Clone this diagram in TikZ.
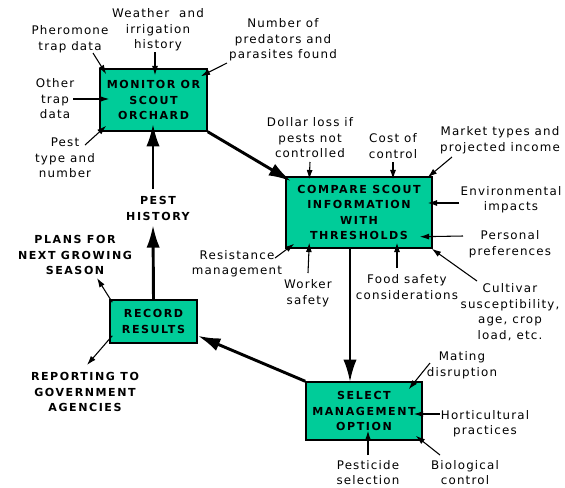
\documentclass[tikz,border=0pt]{standalone}
\usepackage{fontspec}
\setmainfont{DejaVu Sans}
\newfontfamily\lblfont[LetterSpace=10]{DejaVu Sans}
\newfontfamily\capfont[LetterSpace=14]{DejaVu Sans Bold}
\usetikzlibrary{arrows.meta}
\definecolor{scout}{RGB}{0,204,153}
\tikzset{
  box/.style={draw,line width=1.1pt,fill=scout,align=center,inner sep=0pt,
    font=\capfont\fontsize{8.3}{11.6}\selectfont},
  lbl/.style={align=center,inner sep=0pt,font=\lblfont\fontsize{8.9}{11.6}\selectfont},
  caps/.style={align=center,inner sep=0pt,font=\capfont\fontsize{8.3}{11.8}\selectfont},
  feed/.style={line width=0.8pt,-{Latex[length=7pt,width=4.5pt]}},
  flow/.style={line width=2.2pt,-{Latex[length=17pt,width=10pt]}}
}
\begin{document}
\begin{tikzpicture}[x=0.75pt,y=-0.75pt]
\useasboundingbox (0,0) rectangle (565,487);

\node[box,minimum width=80.25pt,minimum height=46.5pt] (mon) at (153.5,100) {MONITOR OR\\SCOUT\\ORCHARD};
\node[box,minimum width=109.5pt,minimum height=53.25pt] (cmp) at (359,212.5) {COMPARE SCOUT\\INFORMATION\\WITH\\THRESHOLDS};
\node[box,minimum width=65.25pt,minimum height=32.25pt] (rec) at (153.5,321.5) {RECORD\\RESULTS};
\node[box,minimum width=87pt,minimum height=43.5pt] (sel) at (364,411) {SELECT\\MANAGEMENT\\OPTION};

\node[lbl] (pher) at (70,39) {Pheromone\\trap data};
\node[lbl] (weather) at (158,30) {Weather~~and\\irrigation\\history};
\node[lbl] (number) at (283,40) {Number of\\predators and\\parasites found};
\node[lbl] (other) at (55,99) {Other\\trap\\data};
\node[lbl] (pest) at (65,158) {Pest\\type and\\number};
\node[caps] (hist) at (158,208.5) {PEST\\HISTORY};

\node[lbl] (dollar) at (310,138) {Dollar loss if\\pests not\\controlled};
\node[lbl] (cost) at (393,146) {Cost of\\control};
\node[lbl] (market) at (500,140) {Market types and\\projected income};
\node[lbl] (env) at (511,199.5) {Environmental\\impacts};
\node[lbl] (pers) at (510,244) {Personal\\preferences};
\node[lbl] (cult) at (510,312) {Cultivar\\susceptibility,\\age, crop\\load, etc.};
\node[lbl] (food) at (407,287) {Food safety\\considerations};
\node[lbl] (worker) at (308,293) {Worker\\safety};
\node[lbl] (resist) at (237,263.5) {Resistance\\management};

\node[caps] (plans) at (75,255) {PLANS FOR\\NEXT GROWING\\SEASON};
\node[caps] (report) at (85,392) {REPORTING TO\\GOVERNMENT\\AGENCIES};

\node[lbl] (mating) at (462,365) {Mating\\disruption};
\node[lbl] (hort) at (485,423.5) {Horticultural\\practices};
\node[lbl] (bio) at (465,472.5) {Biological\\control};
\node[lbl] (pesticide) at (368,472.5) {Pesticide\\selection};

\coordinate (pherT) at (93,53);
\coordinate (weatherT) at (155,52);
\coordinate (numberT) at (227,63);
\coordinate (otherT) at (73,99);
\coordinate (pestT) at (85,145);
\coordinate (histT) at (153,189);
\coordinate (histB) at (153,225);
\coordinate (dollarT) at (310,162);
\coordinate (costT) at (393,162);
\coordinate (marketT) at (452,157);
\coordinate (envT) at (459,203);
\coordinate (persT) at (463,236);
\coordinate (cultT) at (477,281);
\coordinate (foodT) at (397,268);
\coordinate (workerT) at (308,273);
\coordinate (resistT) at (275,258);
\coordinate (plansT) at (97,278);
\coordinate (reportT) at (87,365);
\coordinate (matingT) at (430,363);
\coordinate (hortT) at (440,414);
\coordinate (bioT) at (440,455);
\coordinate (pesticideT) at (368,455);

\draw[feed] (pherT) -- ([shift={(7,6)}]mon.north west);
\draw[feed] (weatherT) -- ([shift={(1.5,7)}]mon.north);
\draw[feed] (numberT) -- ([shift={(-7,8)}]mon.north east);
\draw[feed] (otherT) -- ([shift={(10,-1)}]mon.west);
\draw[feed] (pestT) -- ([shift={(7,-6)}]mon.south west);
\draw[flow] (histT) -- ([shift={(-0.5,-8)}]mon.south);
\draw[flow] (rec.north) -- (histB);
\draw[flow] (mon.south east) -- ([shift={(6,5)}]cmp.north west);

\draw[feed] (dollarT) -- ([shift={(24,3)}]cmp.north west);
\draw[feed] (costT) -- ([shift={(34,3)}]cmp.north);
\draw[feed] (marketT) -- ([shift={(-5,1)}]cmp.north east);
\draw[feed] (envT) -- ([shift={(-5,-9.5)}]cmp.east);
\draw[feed] (persT) -- ([shift={(-13,-12)}]cmp.south east);
\draw[feed] (cultT) -- ([shift={(-1,0)}]cmp.south east);
\draw[feed] (foodT) -- ([shift={(38,-6)}]cmp.south);
\draw[feed] (workerT) -- ([shift={(24,-6)}]cmp.south west);
\draw[feed] (resistT) -- ([shift={(9,-5)}]cmp.south west);
\draw[flow] ([shift={(-9,0)}]cmp.south) -- ([shift={(-14,1)}]sel.north);

\draw[flow] (sel.north west) -- ([shift={(0,-8)}]rec.south east);
\draw[feed] (matingT) -- ([shift={(-14,8)}]sel.north east);
\draw[feed] (hortT) -- ([shift={(-9,3)}]sel.east);
\draw[feed] (bioT) -- ([shift={(-7,-5)}]sel.south east);
\draw[feed] (pesticideT) -- ([shift={(4,-10)}]sel.south);

\draw[feed] ([shift={(3,3)}]rec.north west) -- (plansT);
\draw[feed] ([shift={(3,-8)}]rec.south west) -- (reportT);
\end{tikzpicture}
\end{document}
